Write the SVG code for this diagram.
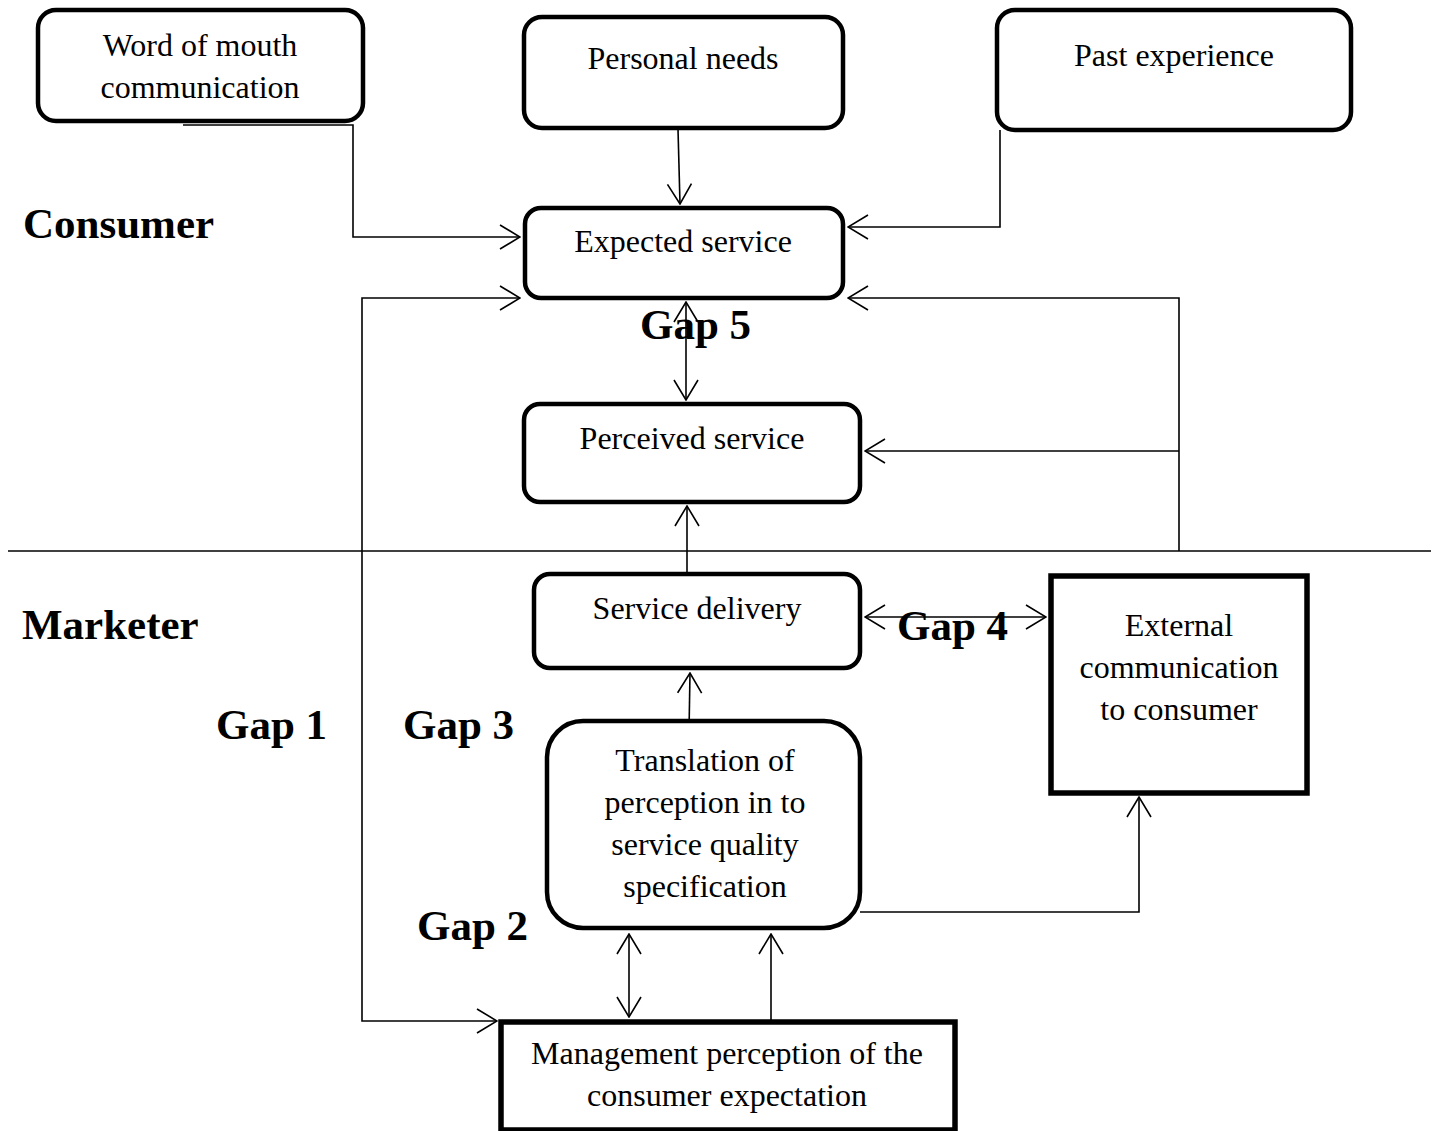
<svg xmlns="http://www.w3.org/2000/svg" width="1441" height="1131" viewBox="0 0 1441 1131">
<style>
.box{fill:#fff;stroke:#000;stroke-width:4.5}
.sq{fill:#fff;stroke:#000;stroke-width:5.5}
.t{font-family:"Liberation Serif","Times New Roman",serif;font-size:32px;fill:#000;text-anchor:middle}
.b{font-family:"Liberation Serif","Times New Roman",serif;font-size:43px;font-weight:bold;fill:#000}
.c{fill:none;stroke:#000;stroke-width:1.6}
</style>
<defs>
<marker id="ah" viewBox="0 0 22 26" refX="21" refY="13" markerWidth="22" markerHeight="26" markerUnits="userSpaceOnUse" orient="auto-start-reverse">
<path d="M1,1 L21,13 L1,25" fill="none" stroke="#000" stroke-width="1.6"/>
</marker>
</defs>
<rect width="1441" height="1131" fill="#fff"/>
<g id="connectors">
<line class="c" x1="8" y1="551" x2="1431" y2="551"/>
<polyline class="c" points="183,125 353,125 353,237 520,237" marker-end="url(#ah)"/>
<line class="c" x1="678" y1="129" x2="680" y2="204" marker-end="url(#ah)"/>
<polyline class="c" points="1000,130 1000,227 848,227" marker-end="url(#ah)"/>
<polyline class="c" points="520,298 362,298 362,1021 497,1021" marker-start="url(#ah)" marker-end="url(#ah)"/>
<polyline class="c" points="1179,551 1179,298 848,298" marker-end="url(#ah)"/>
<line class="c" x1="1179" y1="451" x2="865" y2="451" marker-end="url(#ah)"/>
<line class="c" x1="686" y1="302" x2="686" y2="400" marker-start="url(#ah)" marker-end="url(#ah)"/>
<line class="c" x1="687" y1="574" x2="687" y2="506" marker-end="url(#ah)"/>
<line class="c" x1="689" y1="732" x2="690" y2="673" marker-end="url(#ah)"/>
<line class="c" x1="865" y1="617" x2="1046" y2="617" marker-start="url(#ah)" marker-end="url(#ah)"/>
<polyline class="c" points="860,912 1139,912 1139,797" marker-end="url(#ah)"/>
<line class="c" x1="629" y1="934" x2="629" y2="1017" marker-start="url(#ah)" marker-end="url(#ah)"/>
<line class="c" x1="771" y1="1021" x2="771" y2="934" marker-end="url(#ah)"/>
</g>
<g id="word-of-mouth">
<rect class="box" x="38" y="10" width="325" height="111" rx="18"/>
<text class="t" x="200" y="56">Word of mouth</text>
<text class="t" x="200" y="98">communication</text>
</g>
<g id="personal-needs">
<rect class="box" x="524" y="17" width="319" height="111" rx="18"/>
<text class="t" x="683" y="69">Personal needs</text>
</g>
<g id="past-experience">
<rect class="box" x="997" y="10" width="354" height="120" rx="18"/>
<text class="t" x="1174" y="66">Past experience</text>
</g>
<g id="expected-service">
<rect class="box" x="525" y="208" width="318" height="90" rx="16"/>
<text class="t" x="683" y="252">Expected service</text>
</g>
<g id="perceived-service">
<rect class="box" x="524" y="404" width="336" height="98" rx="16"/>
<text class="t" x="692" y="449">Perceived service</text>
</g>
<g id="service-delivery">
<rect class="box" x="534" y="574" width="326" height="94" rx="16"/>
<text class="t" x="697" y="619">Service delivery</text>
</g>
<g id="external-communication">
<rect class="sq" x="1051" y="576" width="256" height="217"/>
<text class="t" x="1179" y="636">External</text>
<text class="t" x="1179" y="678">communication</text>
<text class="t" x="1179" y="720">to consumer</text>
</g>
<g id="translation">
<rect class="box" x="547" y="721" width="313" height="207" rx="36"/>
<text class="t" x="705" y="771">Translation of</text>
<text class="t" x="705" y="813">perception in to</text>
<text class="t" x="705" y="855">service quality</text>
<text class="t" x="705" y="897">specification</text>
</g>
<g id="management">
<rect class="sq" x="501" y="1022" width="454" height="108"/>
<text class="t" x="727" y="1064">Management perception of the</text>
<text class="t" x="727" y="1106">consumer expectation</text>
</g>
<g id="labels">
<text class="b" x="23" y="238">Consumer</text>
<text class="b" x="22" y="639">Marketer</text>
<text class="b" x="640" y="339">Gap 5</text>
<text class="b" x="897" y="640">Gap 4</text>
<text class="b" x="216" y="739">Gap 1</text>
<text class="b" x="403" y="739">Gap 3</text>
<text class="b" x="417" y="940">Gap 2</text>
</g>
</svg>
